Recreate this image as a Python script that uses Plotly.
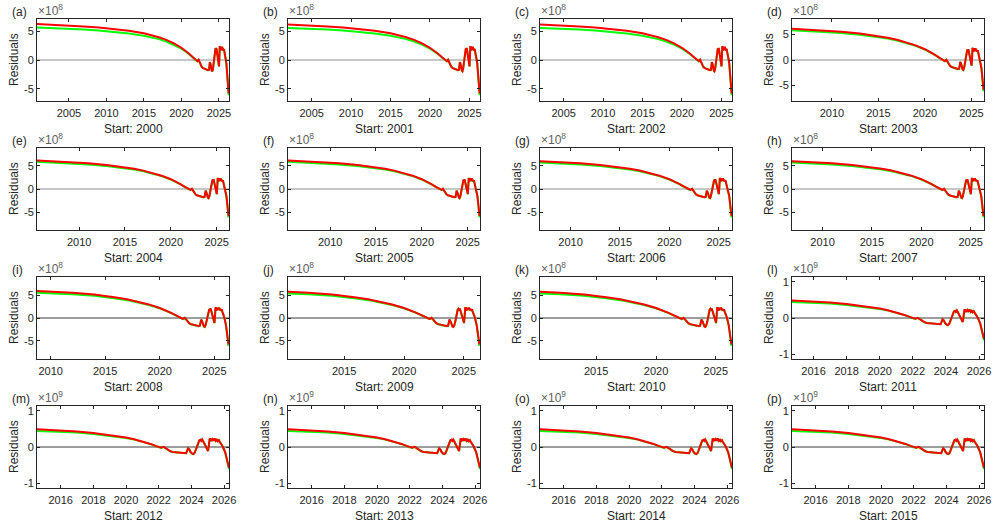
import plotly.graph_objects as go

W, H = 998, 527

# ---------------- data (residuals in units of 1e8) ----------------
panel_letters = list("abcdefghijklmnop")
start_years = list(range(2000, 2016))

# early part of the curves, group A (panels a-c)
years_A = [2000.75, 2003, 2005, 2007, 2009, 2011, 2013, 2015, 2016, 2017, 2018, 2019, 2020, 2020.5, 2021, 2021.5, 2021.8]
red_A = [6.25, 6.12, 5.98, 5.82, 5.62, 5.38, 5.05, 4.62, 4.32, 3.95, 3.48, 2.88, 2.12, 1.65, 1.12, 0.52, 0.10]
green_A = [5.62, 5.52, 5.42, 5.28, 5.10, 4.88, 4.58, 4.20, 3.94, 3.62, 3.20, 2.66, 1.98, 1.55, 1.06, 0.48, 0.07]

# group D (panels d-h)
years_D = [2005.3, 2007, 2009, 2011, 2013, 2015, 2016, 2017, 2018, 2019, 2020, 2020.5, 2021, 2021.5, 2021.8]
red_D = [6.15, 5.98, 5.78, 5.52, 5.15, 4.65, 4.33, 3.95, 3.47, 2.86, 2.10, 1.63, 1.10, 0.50, 0.08]
green_D = [5.85, 5.70, 5.52, 5.28, 4.94, 4.47, 4.17, 3.81, 3.35, 2.77, 2.04, 1.58, 1.07, 0.48, 0.07]

# group I (panels i-k)
years_I = [2008.5, 2010, 2012, 2014, 2015, 2016, 2017, 2018, 2019, 2020, 2020.5, 2021, 2021.5, 2021.8]
red_I = [5.95, 5.80, 5.55, 5.15, 4.88, 4.52, 4.10, 3.60, 2.98, 2.20, 1.72, 1.18, 0.56, 0.10]
green_I = [5.58, 5.46, 5.24, 4.88, 4.63, 4.30, 3.92, 3.45, 2.87, 2.13, 1.67, 1.14, 0.53, 0.08]

# group L (panels l-p)
years_L = [2014.5, 2016, 2017, 2018, 2019, 2020, 2020.5, 2021, 2021.5, 2021.8]
red_L = [4.90, 4.60, 4.30, 3.85, 3.30, 2.60, 2.15, 1.55, 0.85, 0.30]
green_L = [4.45, 4.22, 3.97, 3.58, 3.08, 2.45, 2.03, 1.47, 0.80, 0.27]

# late part, shared by all panels
late_years = [2022.0, 2022.15, 2022.3, 2022.42, 2022.55, 2022.7, 2022.85, 2023.0, 2023.2, 2023.4,
              2023.55, 2023.68, 2023.74, 2023.8, 2023.88, 2023.95, 2024.05, 2024.12, 2024.2, 2024.3,
              2024.4, 2024.48, 2024.55, 2024.6, 2024.66, 2024.72, 2024.8, 2024.88, 2024.96, 2025.02,
              2025.07, 2025.12, 2025.17, 2025.22, 2025.27, 2025.32, 2025.38, 2025.44, 2025.5, 2025.56,
              2025.62, 2025.68, 2025.74, 2025.8, 2025.87, 2025.93, 2026.0, 2026.07, 2026.13, 2026.2,
              2026.26, 2026.3]
late_red = [-0.05, -0.20, 0.05, -0.30, -0.80, -1.15, -1.35, -1.45, -1.55, -1.60,
            -1.75, -1.70, -1.00, -0.35, -0.70, -1.40, -1.85, -1.95, -1.60, -0.60,
            0.80, 1.80, 2.00, 1.70, 2.10, 1.60, 0.90, 0.10, -0.70, -1.10,
            0.60, 2.40, 1.60, 2.30, 1.70, 2.20, 1.90, 2.30, 1.70, 2.00,
            1.60, 1.90, 1.40, 1.10, 0.50, 0.00, -0.60, -1.50, -2.60, -3.80,
            -5.00, -5.80]
late_green = [-0.08, -0.23, 0.02, -0.33, -0.83, -1.18, -1.38, -1.48, -1.58, -1.63,
              -1.78, -1.73, -1.03, -0.38, -0.73, -1.43, -1.88, -1.98, -1.63, -0.63,
              0.77, 1.77, 1.97, 1.67, 2.07, 1.57, 0.87, 0.07, -0.73, -1.13,
              0.57, 2.37, 1.57, 2.27, 1.67, 2.17, 1.87, 2.27, 1.67, 1.97,
              1.57, 1.87, 1.37, 1.07, 0.47, -0.03, -0.65, -1.58, -2.70, -3.95,
              -5.20, -6.10]

groups = {
    "A": (years_A, red_A, green_A),
    "D": (years_D, red_D, green_D),
    "I": (years_I, red_I, green_I),
    "L": (years_L, red_L, green_L),
}
panel_group = ["A", "A", "A", "D", "D", "D", "D", "D", "I", "I", "I", "L", "L", "L", "L", "L"]
x_start = [2000.75, 2002.0, 2002.0, 2005.7, 2005.4, 2005.4, 2006.9, 2006.9,
           2008.75, 2010.3, 2010.3, 2014.7, 2014.55, 2014.55, 2014.55, 2014.55]
x_end = [2026.35] * 11 + [2026.3] * 5
y_lim = [7.1, 7.1, 7.1, 8.0, 8.8, 8.8, 8.8, 8.8, 9.0, 9.0, 9.0, 1.13, 1.13, 1.13, 1.13, 1.13]
exponent = [8] * 11 + [9] * 5

xticks_e8 = [2005, 2010, 2015, 2020, 2025]
xticks_e9 = [2016, 2018, 2020, 2022, 2024, 2026]
yticks_e8 = [-5, 0, 5]
yticks_e9 = [-1, 0, 1]

# ---------------- layout ----------------
col_left = [37, 288, 540, 792]
row_top = [19, 148, 277, 406]
box_w, box_h = 192, 82

FONT = "Liberation Sans, Arial, sans-serif"
AX = "#262626"

fig = go.Figure()
annotations = []
shapes = []

for i in range(16):
    r, c = divmod(i, 4)
    left, top = col_left[c], row_top[r]
    xa = "x" if i == 0 else f"x{i+1}"
    ya = "y" if i == 0 else f"y{i+1}"
    scale = 1.0 if exponent[i] == 8 else 0.1
    yrs, red, green = groups[panel_group[i]]
    xs = yrs + late_years
    ys_red = [v * scale for v in red + late_red]
    ys_green = [v * scale for v in green + late_green]

    fig.add_trace(go.Scatter(x=xs, y=ys_green, mode="lines", line=dict(color="#00ff00", width=2),
                             xaxis=xa, yaxis=ya, showlegend=False, hoverinfo="skip"))
    fig.add_trace(go.Scatter(x=xs, y=ys_red, mode="lines", line=dict(color="#ff0000", width=2),
                             xaxis=xa, yaxis=ya, showlegend=False, hoverinfo="skip"))

    zcol = "#8c8c8c" if r < 2 else "#3a3a3a"
    shapes.append(dict(type="line", xref=f"{xa} domain", yref=ya, x0=0, x1=1, y0=0, y1=0,
                       line=dict(color=zcol, width=1), layer="below"))

    if exponent[i] == 8:
        xt, yt = xticks_e8, yticks_e8
    else:
        xt, yt = xticks_e9, yticks_e9

    axis_common = dict(showline=True, linecolor=AX, linewidth=1, mirror="ticks", ticks="inside",
                       ticklen=3, tickwidth=1, tickcolor=AX, showgrid=False, zeroline=False,
                       tickfont=dict(family=FONT, size=11, color=AX))
    fig.layout[("xaxis" if i == 0 else f"xaxis{i+1}")] = dict(
        domain=[left / W, (left + box_w) / W], anchor=ya, range=[x_start[i], x_end[i]],
        tickvals=xt, ticktext=[str(v) for v in xt], ticklabelstandoff=2, **axis_common)
    fig.layout[("yaxis" if i == 0 else f"yaxis{i+1}")] = dict(
        domain=[1 - (top + box_h) / H, 1 - top / H], anchor=xa, range=[-y_lim[i], y_lim[i]],
        tickvals=yt, ticktext=[str(v) for v in yt], **axis_common)

    # panel letter
    annotations.append(dict(text=f"({panel_letters[i]})", x=(left - 27) / W, y=1 - (top - 7) / H,
                            xref="paper", yref="paper", xanchor="left", yanchor="middle",
                            showarrow=False, font=dict(family=FONT, size=12, color=AX)))
    # exponent label
    annotations.append(dict(text=f"×10<sup>{exponent[i]}</sup>", x=(left - 1) / W, y=1 - (top + 1) / H,
                            xref="paper", yref="paper", xanchor="left", yanchor="bottom",
                            showarrow=False, font=dict(family=FONT, size=12, color="#606060")))
    # y label
    annotations.append(dict(text="Residuals", x=(left - 23) / W, y=1 - (top + box_h / 2) / H,
                            xref="paper", yref="paper", xanchor="center", yanchor="middle",
                            textangle=-90, showarrow=False, font=dict(family=FONT, size=12, color=AX)))
    # x label
    annotations.append(dict(text=f"Start: {start_years[i]}", x=(left + box_w / 2) / W,
                            y=1 - (top + box_h + 28) / H, xref="paper", yref="paper",
                            xanchor="center", yanchor="middle", showarrow=False,
                            font=dict(family=FONT, size=12, color=AX)))

fig.update_layout(width=W, height=H, margin=dict(l=0, r=0, t=0, b=0), paper_bgcolor="white",
                  plot_bgcolor="white", annotations=annotations, shapes=shapes, showlegend=False,
                  template="none")

fig.write_html("out.html", include_plotlyjs=True, full_html=True,
               config={"displayModeBar": False})
